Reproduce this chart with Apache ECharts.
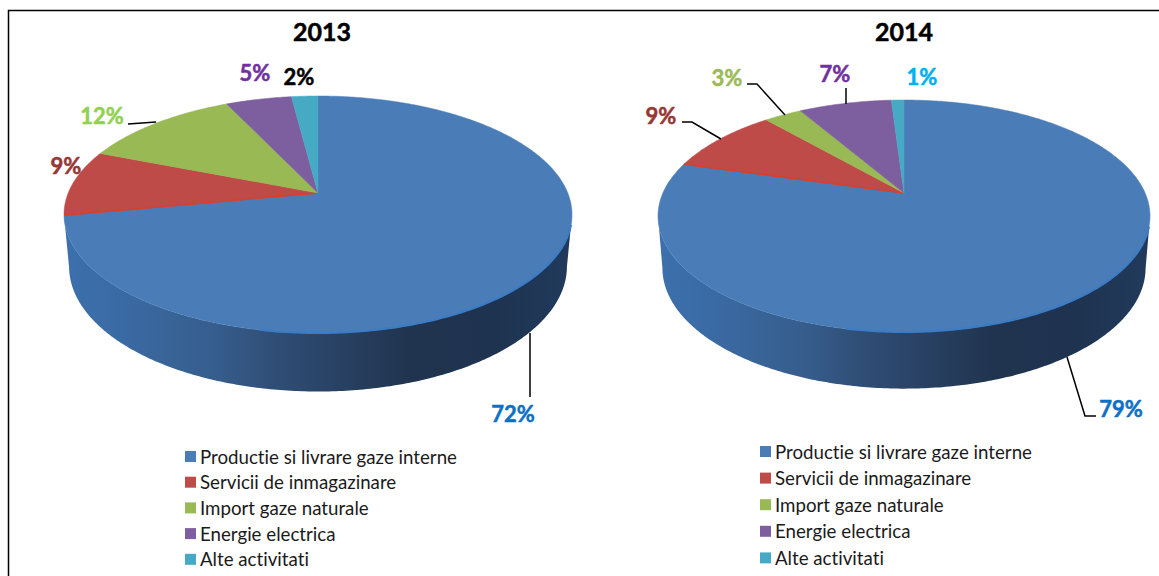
<!DOCTYPE html>
<html><head><meta charset="utf-8">
<style>html,body{margin:0;padding:0;background:#fff}#c{width:1159px;height:576px}text{font-variant-ligatures:none}</style>
<script src="https://cdn.jsdelivr.net/npm/echarts@6/dist/echarts.min.js"></script>
</head><body><div id="c"></div>
<script>
const categories = ['Productie si livrare gaze interne','Servicii de inmagazinare','Import gaze naturale','Energie electrica','Alte activitati'];
const values2013 = [72, 9, 12, 5, 2];
const values2014 = [79.4, 9.2, 3.0, 7.4, 1.0];
const years = ['2013', '2014'];

const colors = ['#4a7cb8','#be4b48','#98b954','#7d5fa0','#46aac5'];
const labelColors2013 = ['#0d70c5','#953735','#92d050','#7030a0','#000000'];
const labelColors2014 = ['#0d70c5','#953735','#9bbb59','#7030a0','#00b0f0'];
const FONT = 'Lato, Carlito, "Open Sans", sans-serif';

const pies = [
  {values: values2013, labelColors: labelColors2013, tipX: 318, tipY: 193, top: 96, bottom: 333, halfW: 254, wallDrop: 52, sx: 0.98, sy: 1.055,
   labelPos: [[513,413],[66,165],[102,115],[255,72],[299,76]]},
  {values: values2014, labelColors: labelColors2014, tipX: 904, tipY: 193, top: 100, bottom: 332, halfW: 246, wallDrop: 52, sx: 0.982, sy: 1.04,
   labelPos: [[1121,408],[661,115],[727,77],[835,73],[922,76]]}
];
const leaders = [
  [[530,333],[530,397]],
  [[128,124],[156,122]],
  [[1067,357],[1085,416],[1096,416]],
  [[682,122],[692,122],[721,139]],
  [[747,84],[757,84],[785,115]],
  [[846,88],[846,104]]
];

const wallStops = [
  {offset:0, color:'#3c70ac'},{offset:0.12,color:'#3a6aa3'},{offset:0.3,color:'#365d8c'},
  {offset:0.42,color:'#2f4d75'},{offset:0.52,color:'#2a4366'},{offset:0.68,color:'#20344f'},
  {offset:0.85,color:'#1e3350'},{offset:1,color:'#213a5c'}
];

// Perspective projection of a unit disk so that the pie's centre lands on the tip point.
function projector(p) {
  const r = (p.tipY - p.top) / (p.bottom - p.tipY);
  const c = (r - 1) / (r + 1);
  const k = (p.tipY - p.top) * (1 - c);
  const d = p.halfW * Math.sqrt(1 - c * c);
  return deg => {
    const a = deg * Math.PI / 180, u = Math.sin(a), v = -Math.cos(a), w = 1 + c * v;
    return [p.tipX + d * u / w, p.tipY + k * v / w];
  };
}
function arc(project, from, to) {
  const n = Math.max(2, Math.ceil((to - from) * 1.5)), pts = [];
  for (let i = 0; i <= n; i++) pts.push(project(from + (to - from) * i / n));
  return pts;
}
function makeRender(p, index, part) {
  const project = projector(p);
  const total = p.values.reduce((a, b) => a + b, 0);
  const start = p.values.slice(0, index).reduce((a, b) => a + b, 0) / total * 360;
  return function (params, api) {
    const end = start + api.value(0) / total * 360;
    const rim = arc(project, start, end);
    const yc = (p.top + p.bottom) / 2;
    if (part === 'wall') {
      const front = rim.filter(q => q[1] >= yc);
      if (front.length < 2) return {type: 'group', children: []};
      const low = front.map(q => [p.tipX + (q[0] - p.tipX) * p.sx, yc + p.wallDrop + (q[1] - yc) * p.sy]).reverse();
      return {type: 'polygon', shape: {points: front.concat(low)},
        style: {fill: new echarts.graphic.LinearGradient(0, 0, 1, 0, wallStops)}, silent: true};
    }
    const children = [{type: 'polygon', shape: {points: [[p.tipX, p.tipY]].concat(rim)},
      style: {fill: api.visual('color'), stroke: api.visual('color'), lineWidth: 0.5}}];
    if (index === 0) {
      const front = rim.filter(q => q[1] >= yc + 10 && q[0] > p.tipX - 60);
      children.push({type: 'polyline', shape: {points: front},
        style: {fill: null, stroke: '#3b7cc6', lineWidth: 2}});
    }
    if (index === 1) {
      children.push({type: 'line', shape: {x1: p.tipX, y1: p.tipY, x2: rim[0][0], y2: rim[0][1]},
        style: {stroke: '#d8402e', lineWidth: 1.5}});
    }
    const lp = p.labelPos[index];
    const lc = p.labelColors[index];
    children.push({type: 'text', style: {x: lp[0], y: lp[1], text: Math.round(api.value(0)) + '%',
      fill: lc, stroke: lc, lineWidth: 0.5, font: 'bold 22px ' + FONT, align: 'center', verticalAlign: 'middle'}});
    return {type: 'group', children};
  };
}

const series = [];
pies.forEach(p => {
  ['wall', 'top'].forEach(part => {
    categories.forEach((name, i) => {
      series.push({type: 'custom', name, coordinateSystem: 'none', silent: part === 'wall',
        itemStyle: {color: colors[i]}, data: [[p.values[i]]], renderItem: makeRender(p, i, part),
        z: part === 'wall' ? 2 : 3, animation: false});
    });
  });
});

const legendBase = {orient: 'vertical', data: categories, icon: 'rect', itemWidth: 11, itemHeight: 11,
  selectedMode: false, textStyle: {fontFamily: FONT, fontSize: 18.7, color: '#1a1a1a', padding: [0,0,0,-1]}, padding: 0};
const titleStyle = {fontFamily: FONT, fontSize: 25, fontWeight: 'bold', color: '#000', textBorderColor: '#000', textBorderWidth: 0.5};

const option = {
  animation: false,
  backgroundColor: '#ffffff',
  title: [
    {text: years[0], left: 317, top: 26, textAlign: 'center', textVerticalAlign: 'middle', textStyle: titleStyle},
    {text: years[1], left: 899, top: 26, textAlign: 'center', textVerticalAlign: 'middle', textStyle: titleStyle}
  ],
  legend: [
    Object.assign({}, legendBase, {left: 185, top: 447, itemGap: 6.7}),
    Object.assign({}, legendBase, {left: 760, top: 442, itemGap: 7.6})
  ],
  graphic: {elements: [
    {type: 'polyline', silent: true, z: 10, shape: {points: [[8.5,576],[8.5,10.5],[1159,10.5]]}, style: {fill: null, stroke: '#000', lineWidth: 1.5}}
  ].concat(leaders.map(pts => ({type: 'polyline', silent: true, z: 10, shape: {points: pts}, style: {fill: null, stroke: '#000', lineWidth: 1.5}})))},
  series
};
echarts.init(document.getElementById('c'), null, {renderer: 'svg'}).setOption(option);
</script></body></html>
